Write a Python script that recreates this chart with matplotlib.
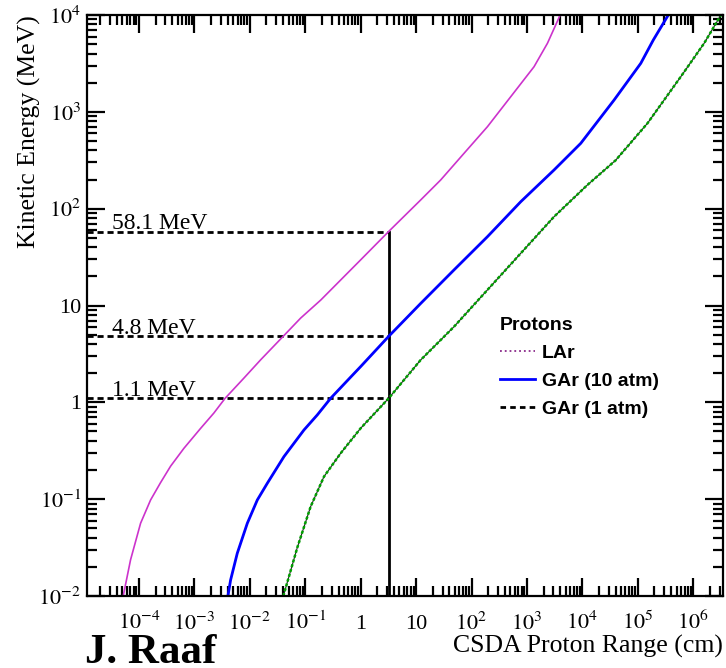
import matplotlib
matplotlib.use('Agg')
import matplotlib.pyplot as plt
from matplotlib.lines import Line2D
from matplotlib.ticker import LogLocator, NullFormatter

plt.rcParams.update({'font.family': 'Liberation Serif', 'mathtext.fontset': 'stix'})

# CSDA range (cm) vs proton kinetic energy (MeV)
lar_range = [5.2e-5, 7.05e-5, 1.07e-4, 1.62e-4, 2.45e-4, 3.72e-4, 6.47e-4, 1.29e-3,
             2.25e-3, 3.58e-3, 7.83e-3, 0.0157, 0.0398, 0.0826, 0.191, 1.0, 3.2,
             12.1, 27.8, 73.3, 194, 511, 1343, 2344, 3981]
lar_energy = [0.01, 0.0236, 0.0564, 0.098, 0.148, 0.219, 0.335, 0.537,
              0.776, 1.1, 1.78, 2.75, 4.79, 7.41, 11.4, 29.6, 58.1,
              123, 198, 373, 703, 1435, 2924, 5105, 1.0e4]

gar10_range = [4.03e-3, 4.5e-3, 5.94e-3, 9.02e-3, 0.01365, 0.0207, 0.0413, 0.0948,
               0.165, 0.287, 0.659, 1.0, 3.2, 12.1, 48.3, 194, 773, 3083, 9354,
               37330, 1.132e5, 1.905e5, 3.548e5]
gar10_energy = [0.01, 0.0146, 0.0276, 0.0564, 0.098, 0.146, 0.275, 0.518,
                0.741, 1.1, 1.82, 2.34, 4.8, 10.5, 23.3, 51.4, 118, 251, 473,
                1324, 3170, 5521, 1.0e4]

gar1_range = [0.0403, 0.0719, 0.125, 0.218, 0.436, 1.0, 3.2, 12.1, 48.3, 194,
              773, 3083, 12360, 39810, 1.496e5, 5.97e5, 1.574e6, 3.162e6]
gar1_energy = [0.01, 0.0316, 0.0836, 0.171, 0.298, 0.540, 1.1, 2.74, 6.04, 14.5,
               34.6, 82.6, 176, 316, 762, 2307, 5105, 1.0e4]

# energies reached at the 3.2 cm mark
marker_range = 3.2
marker_energy = [58.1, 4.8, 1.1]
marker_labels = ['58.1 MeV', '4.8 MeV', '1.1 MeV']

x_ticks = [1e-4, 1e-3, 1e-2, 1e-1, 1, 10, 1e2, 1e3, 1e4, 1e5, 1e6]
x_ticklabels = ['$10^{-4}$', '$10^{-3}$', '$10^{-2}$', '$10^{-1}$', '1', '10',
                '$10^{2}$', '$10^{3}$', '$10^{4}$', '$10^{5}$', '$10^{6}$']
y_ticks = [1e-2, 1e-1, 1, 10, 1e2, 1e3, 1e4]
y_ticklabels = ['$10^{-2}$', '$10^{-1}$', '1', '10', '$10^{2}$', '$10^{3}$', '$10^{4}$']

legend_labels = ['LAr', 'GAr (10 atm)', 'GAr (1 atm)']

fig = plt.figure(figsize=(7.26, 6.68), dpi=100)
ax = fig.add_axes([0.1194, 0.1078, 0.876, 0.8697])
ax.set_xscale('log')
ax.set_yscale('log')
xmin, xmax = 1.14e-5, 3.4e6
ax.set_xlim(xmin, xmax)
ax.set_ylim(1e-2, 1e4)

# dashed guides + vertical line at the range mark
for e in marker_energy:
    ax.plot([xmin, marker_range], [e, e], color='black', lw=2, ls=(0, (2.2, 1.4)))
ax.plot([marker_range, marker_range], [1e-2, max(marker_energy)], color='black', lw=2)
for e, lab in zip(marker_energy, marker_labels):
    ax.annotate(lab, (3.3e-5, e), xytext=(0, 2), textcoords='offset points',
                fontsize=17, va='baseline', ha='left')

ax.plot(lar_range, lar_energy, color='#cc33cc', lw=1.2)
ax.plot(gar10_range, gar10_energy, color='#0000ff', lw=2)
ax.plot(gar1_range, gar1_energy, color='#222222', lw=0.8)
ax.plot(gar1_range, gar1_energy, color='#00a000', lw=1.8, ls=(0, (1.2, 0.8)))

ax.set_xticks(x_ticks, x_ticklabels, va='baseline')
ax.set_yticks(y_ticks, y_ticklabels)
for axis in (ax.xaxis, ax.yaxis):
    axis.set_minor_locator(LogLocator(base=10, subs=range(2, 10), numticks=40))
    axis.set_minor_formatter(NullFormatter())
ax.tick_params(which='both', direction='in', top=True, right=True, width=1.6, labelsize=16)
ax.tick_params(which='major', length=13)
ax.tick_params(which='minor', length=7)
ax.tick_params(axis='x', pad=24)
ax.tick_params(axis='y', pad=4)
for s in ax.spines.values():
    s.set_linewidth(1.6)

ax.set_ylabel('Kinetic Energy (MeV)', fontsize=18.5, loc='top')
ax.yaxis.set_label_coords(-0.072, 1.0)
ax.set_xlabel('CSDA Proton Range (cm)', fontsize=18.5, loc='right')
ax.xaxis.set_label_coords(1.0, -0.067)

handles = [Line2D([], [], color='#8a2a8a', ls=':', lw=1.3),
           Line2D([], [], color='#0000ff', lw=2),
           Line2D([], [], color='black', ls=(0, (2, 1.5)), lw=2)]
sans_bold = dict(family='Liberation Sans', weight='bold', size=14)
ax.legend(handles, legend_labels, title='Protons', loc='upper left',
          bbox_to_anchor=(0.650, 0.480), frameon=False, prop=sans_bold,
          title_fontproperties=sans_bold, alignment='left', handlelength=1.8,
          handletextpad=0.35, labelspacing=0.53, borderpad=0, borderaxespad=0)

fig.text(85 / 726, 5 / 668, 'J. Raaf', fontsize=31, fontweight='bold', va='baseline')

fig.savefig('out.png', dpi=100)
